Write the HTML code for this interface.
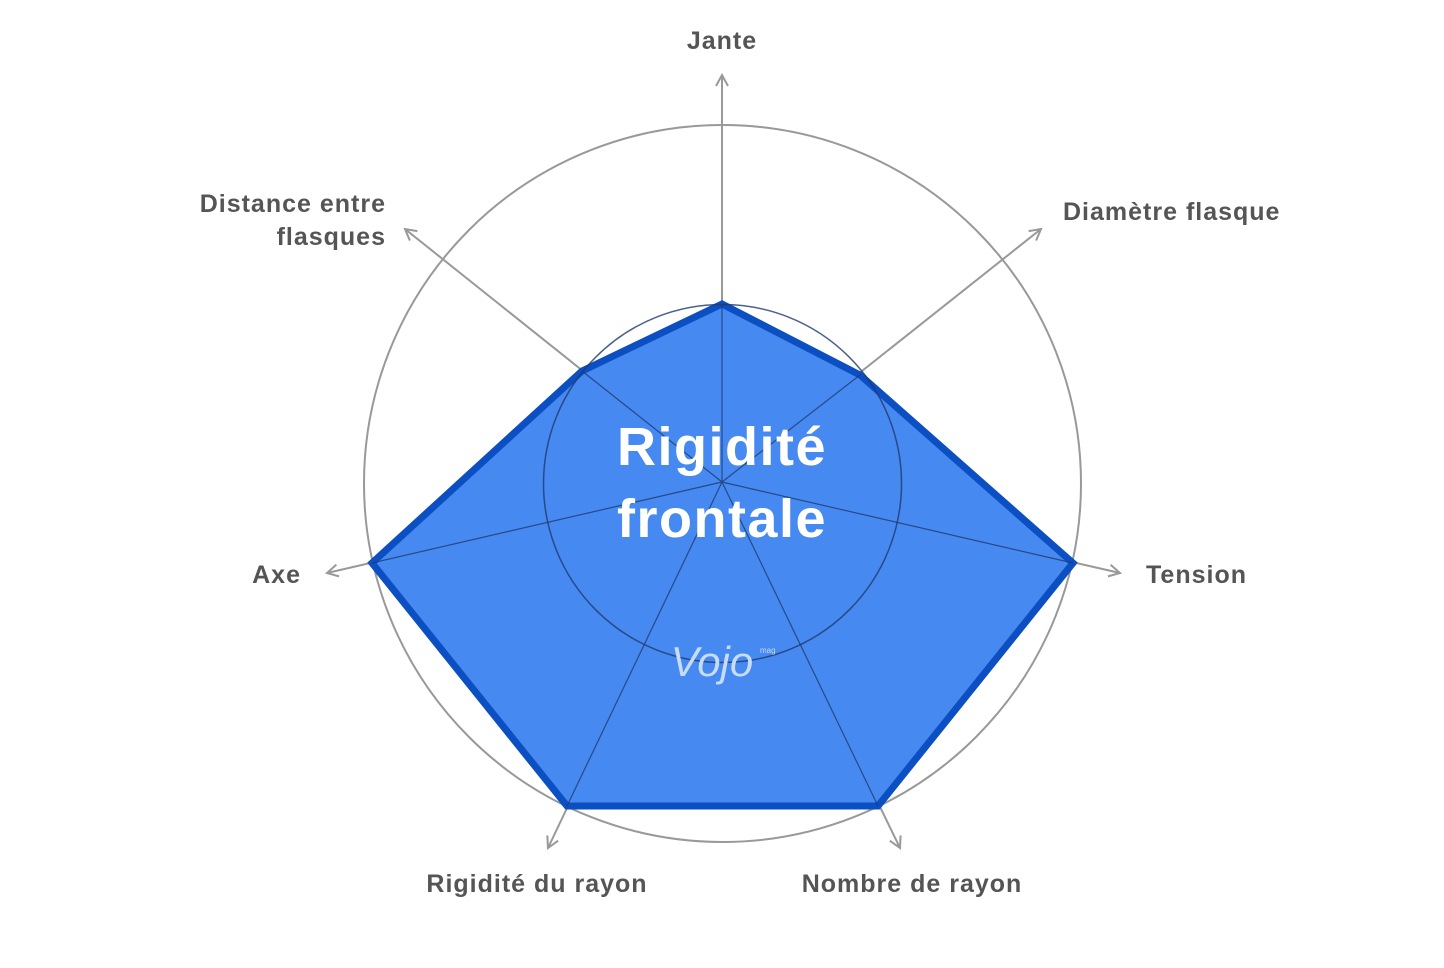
<!DOCTYPE html>
<html><head><meta charset="utf-8"><style>
html,body{margin:0;padding:0;background:#fff;}
svg{display:block;}
.l{font-family:"Liberation Sans",sans-serif;font-weight:bold;font-size:25px;fill:#555;letter-spacing:1px;}
</style></head><body>
<svg width="1444" height="968" viewBox="0 0 1444 968" xmlns="http://www.w3.org/2000/svg">
<defs><marker id="a" markerWidth="14" markerHeight="14" refX="12" refY="7" orient="auto" markerUnits="userSpaceOnUse"><path d="M1,1 L12,7 L1,13" fill="none" stroke="#999" stroke-width="2"/></marker></defs>
<circle cx="722.5" cy="483.5" r="358.5" fill="none" stroke="#999" stroke-width="2"/>
<g stroke="#999" stroke-width="2" marker-end="url(#a)">
<line x1="722" y1="482" x2="722" y2="75"/>
<line x1="722" y1="482" x2="1041" y2="229"/>
<line x1="722" y1="482" x2="1120" y2="573"/>
<line x1="722" y1="482" x2="900" y2="848"/>
<line x1="722" y1="482" x2="548" y2="848"/>
<line x1="722" y1="482" x2="327" y2="573"/>
<line x1="722" y1="482" x2="405" y2="229"/>
</g>
<polygon points="722,304 860,375 1073,563 878,806 567,806 372,563 582,371" fill="#4689f0" stroke="#0b4fc2" stroke-width="7" stroke-linejoin="miter"/>
<circle cx="722.5" cy="483.5" r="179" fill="none" stroke="#1f3a6e" stroke-width="1.5" opacity="0.8"/>
<g stroke="#1f3a6e" stroke-width="1.2" opacity="0.8">
<line x1="722" y1="482" x2="722" y2="304"/>
<line x1="722" y1="482" x2="860" y2="375"/>
<line x1="722" y1="482" x2="1073" y2="563"/>
<line x1="722" y1="482" x2="878" y2="806"/>
<line x1="722" y1="482" x2="567" y2="806"/>
<line x1="722" y1="482" x2="372" y2="563"/>
<line x1="722" y1="482" x2="582" y2="371"/>
</g>
<text x="722" y="465" text-anchor="middle" font-family="Liberation Sans,sans-serif" font-weight="bold" font-size="54" fill="#fff" letter-spacing="1.5">Rigidité</text>
<text x="722" y="537" text-anchor="middle" font-family="Liberation Sans,sans-serif" font-weight="bold" font-size="54" fill="#fff" letter-spacing="1.5">frontale</text>
<text x="712" y="676" text-anchor="middle" font-family="Liberation Sans,sans-serif" font-style="italic" font-size="42" fill="#c6dcf7">Vojo</text>
<text x="760" y="653" font-family="Liberation Sans,sans-serif" font-size="8" fill="#c6dcf7">mag</text>
<text class="l" x="722" y="49" text-anchor="middle">Jante</text>
<text class="l" x="1063" y="220">Diamètre flasque</text>
<text class="l" x="1146" y="583">Tension</text>
<text class="l" x="912" y="892" text-anchor="middle">Nombre de rayon</text>
<text class="l" x="537" y="892" text-anchor="middle">Rigidité du rayon</text>
<text class="l" x="301" y="583" text-anchor="end">Axe</text>
<text class="l" x="386" y="212" text-anchor="end">Distance entre</text>
<text class="l" x="386" y="245" text-anchor="end">flasques</text>
</svg>
</body></html>
